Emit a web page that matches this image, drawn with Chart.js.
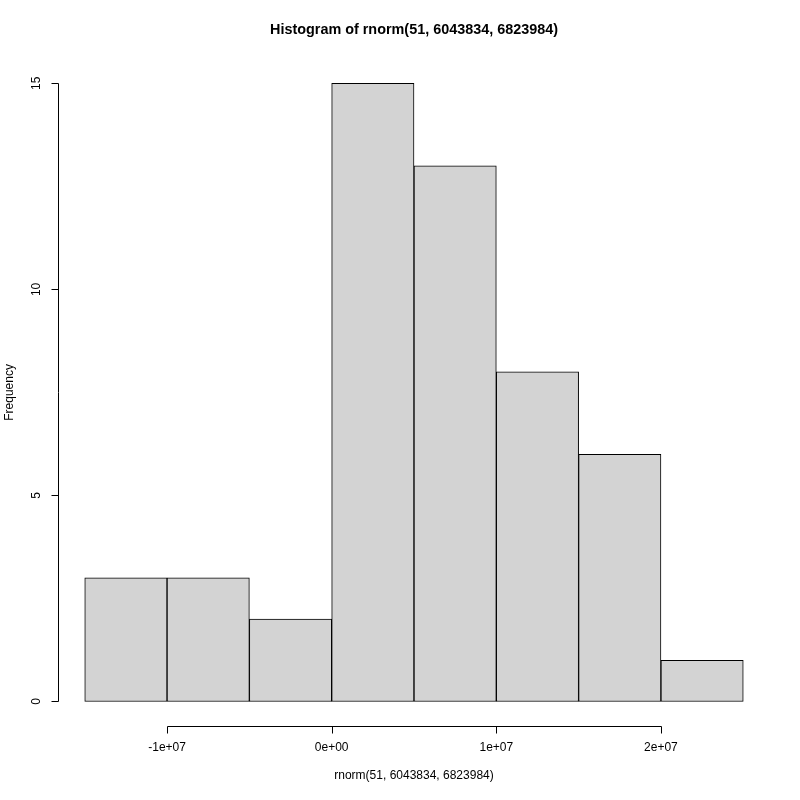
<!DOCTYPE html>
<html>
<head>
<meta charset="utf-8">
<script src="https://cdn.jsdelivr.net/npm/chart.js@4/dist/chart.umd.min.js"></script>
<style>
  html, body { margin: 0; padding: 0; background: #fff; }
  #wrap { width: 800px; height: 800px; }
</style>
</head>
<body>
<div id="wrap"><canvas id="hist" width="800" height="800"></canvas></div>
<script>
// Histogram of rnorm(51, 6043834, 6823984)
const binMids = [-12500000, -7500000, -2500000, 2500000, 7500000, 12500000, 17500000, 22500000];
const counts = [3, 3, 2, 15, 13, 8, 6, 1];
const xTicks = [-10000000, 0, 10000000, 20000000];
const xTickLabels = ["-1e+07", "0e+00", "1e+07", "2e+07"];
const yTicks = [0, 5, 10, 15];

const FONT = "'Liberation Sans', Arial, Helvetica, sans-serif";

// R-style axes, title and labels drawn from the chart scales
const rAxes = {
  id: "rAxes",
  afterDraw(chart) {
    const { ctx, chartArea: ca, scales } = chart;
    const xs = scales.x, ys = scales.y;
    const crisp = (v) => Math.round(v) + 0.5;
    ctx.save();
    ctx.strokeStyle = "#000";
    ctx.lineWidth = 1;
    ctx.fillStyle = "#000";

    // y axis
    const yx = crisp(ca.left);
    ctx.beginPath();
    ctx.moveTo(yx, crisp(ys.getPixelForValue(yTicks[0])));
    ctx.lineTo(yx, crisp(ys.getPixelForValue(yTicks[yTicks.length - 1])));
    yTicks.forEach((t) => {
      const py = crisp(ys.getPixelForValue(t));
      ctx.moveTo(yx, py);
      ctx.lineTo(yx - 7, py);
    });
    ctx.stroke();
    ctx.font = "12px " + FONT;
    ctx.textAlign = "center";
    ctx.textBaseline = "middle";
    yTicks.forEach((t) => {
      const py = ys.getPixelForValue(t);
      ctx.save();
      ctx.translate(37, py);
      ctx.rotate(-Math.PI / 2);
      ctx.fillText(String(t), 0, 0);
      ctx.restore();
    });

    // x axis
    const xy = crisp(ca.bottom);
    ctx.beginPath();
    ctx.moveTo(crisp(xs.getPixelForValue(xTicks[0])), xy);
    ctx.lineTo(crisp(xs.getPixelForValue(xTicks[xTicks.length - 1])), xy);
    xTicks.forEach((t) => {
      const px = crisp(xs.getPixelForValue(t));
      ctx.moveTo(px, xy);
      ctx.lineTo(px, xy + 7);
    });
    ctx.stroke();
    xTicks.forEach((t, i) => {
      ctx.fillText(xTickLabels[i], xs.getPixelForValue(t), 748);
    });

    // titles
    const cx = (ca.left + ca.right) / 2;
    const cy = (ca.top + ca.bottom) / 2;
    ctx.fillText("rnorm(51, 6043834, 6823984)", cx, 776);
    ctx.save();
    ctx.translate(10, cy);
    ctx.rotate(-Math.PI / 2);
    ctx.fillText("Frequency", 0, 0);
    ctx.restore();
    ctx.font = "bold 14.4px " + FONT;
    ctx.fillText("Histogram of rnorm(51, 6043834, 6823984)", cx, 30);
    ctx.restore();
  }
};

new Chart(document.getElementById("hist").getContext("2d"), {
  type: "bar",
  data: {
    datasets: [{
      data: binMids.map((m, i) => ({ x: m, y: counts[i] })),
      backgroundColor: "#d3d3d3",
      borderColor: "#000",
      borderWidth: 1,
      borderSkipped: false,
      barPercentage: 1,
      categoryPercentage: 1,
    }],
  },
  options: {
    responsive: false,
    animation: false,
    layout: { padding: { left: 58.4, right: 30.4, top: 58.6, bottom: 73.8 } },
    plugins: { legend: { display: false }, tooltip: { enabled: false }, title: { display: false } },
    scales: {
      x: { type: "linear", display: false, min: -16600000, max: 26600000, offset: false },
      y: { type: "linear", display: false, min: -0.6, max: 15.6 },
    },
  },
  plugins: [rAxes],
});
</script>
</body>
</html>
